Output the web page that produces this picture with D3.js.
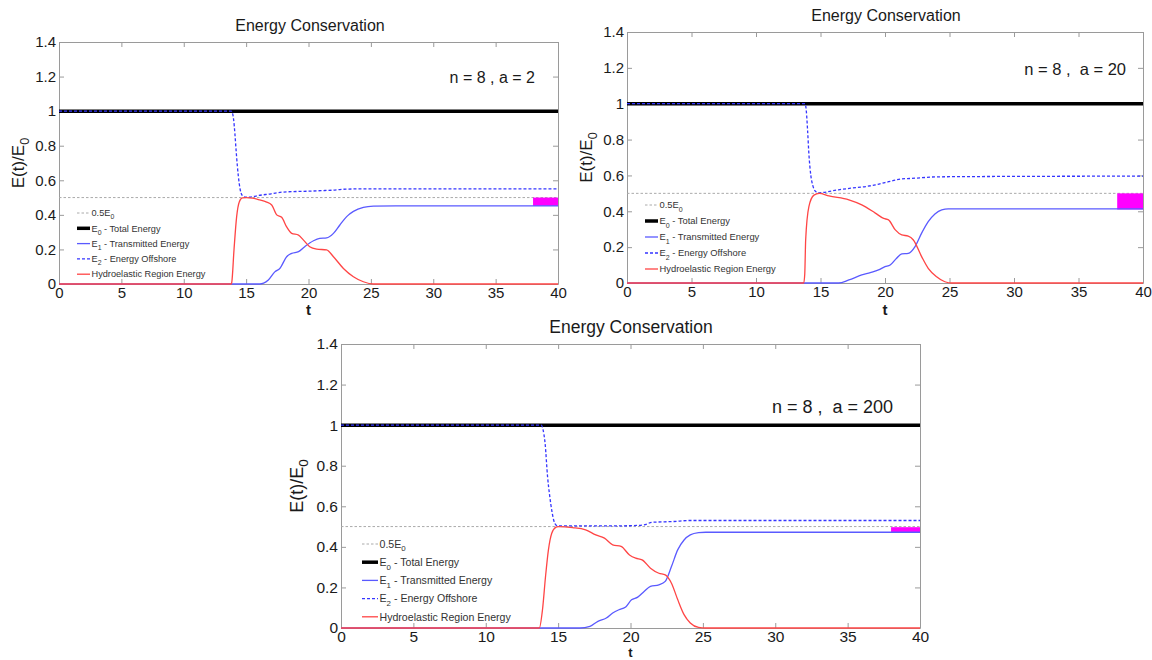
<!DOCTYPE html>
<html><head><meta charset="utf-8">
<script src="https://cdn.jsdelivr.net/npm/d3@7"></script>
<style>body{margin:0;background:#fff} text{font-family:Arial,"Liberation Sans",sans-serif}</style>
</head><body><svg id="c" width="1152" height="660"></svg>
<script>
// ---------------- data ----------------
const xTicks = [0,5,10,15,20,25,30,35,40];
const yTicks = [0,0.2,0.4,0.6,0.8,1,1.2,1.4];
const yTickLabels = ["0","0.2","0.4","0.6","0.8","1","1.2","1.4"];
const xDomain = [0,40];
const yDomain = [0,1.4];
const panelTitles = ["Energy Conservation","Energy Conservation","Energy Conservation"];
const panelNotes = ["n = 8 , a = 2","n = 8 ,  a = 20","n = 8 ,  a = 200"];
const halfLevel = 0.5;
const totalLevel = 1;
const legendMain = ["0.5E","E","E","E","Hydroelastic Region Energy"];
const legendSub = ["0","0","1","2",""];
const legendRest = [""," - Total Energy"," - Transmitted Energy"," - Energy Offshore",""];

// a = 2
const e2_a2 = [[0,1],[13.8,1],[13.9,0.99],[14.0,0.95],[14.1,0.87],[14.2,0.77],[14.3,0.68],[14.45,0.58],[14.6,0.525],[14.8,0.505],[15,0.502],[15.5,0.505],[16,0.512],[17,0.522],[17.5,0.528],[18,0.532],[19,0.535],[20,0.537],[21,0.54],[22,0.543],[22.5,0.546],[23,0.549],[24,0.55],[40,0.55]];
const hydro_a2 = [[0,0],[13.8,0],[13.85,0.01],[14.03,0.2],[14.24,0.39],[14.45,0.475],[14.7,0.498],[15,0.5],[15.5,0.497],[16.1,0.486],[16.6,0.475],[17.05,0.457],[17.45,0.40],[17.85,0.386],[18.25,0.33],[18.65,0.293],[19.2,0.283],[19.6,0.254],[20.1,0.216],[20.66,0.202],[21.45,0.197],[22,0.158],[22.8,0.09],[23.6,0.042],[24.4,0.013],[25.2,0],[40,0]];
const e1_a2 = [[0,0],[16.1,0],[16.4,0.005],[16.78,0.023],[17.3,0.07],[17.7,0.09],[18.25,0.158],[18.65,0.177],[19.2,0.187],[19.7,0.216],[20.4,0.25],[20.9,0.264],[21.45,0.267],[22,0.293],[22.5,0.34],[23.06,0.39],[23.6,0.42],[24.4,0.443],[25.2,0.45],[27,0.452],[40,0.452]];
const gap_a2 = [38,40,0.452,0.5];

// a = 20
const e2_a20 = [[0,1],[13.8,1],[13.9,0.96],[14.0,0.85],[14.1,0.72],[14.25,0.6],[14.4,0.545],[14.6,0.512],[14.9,0.503],[15.2,0.505],[16.4,0.52],[17.5,0.53],[18.5,0.538],[19.25,0.547],[20,0.56],[20.8,0.574],[21.2,0.58],[22,0.583],[22.8,0.587],[24,0.592],[28,0.594],[40,0.596]];
const hydro_a20 = [[0,0],[13.7,0],[13.78,0.05],[13.85,0.24],[14.1,0.426],[14.49,0.49],[14.9,0.5],[15.65,0.486],[17.2,0.464],[18.2,0.436],[19.25,0.39],[19.9,0.36],[20.27,0.352],[20.8,0.296],[21.3,0.268],[21.8,0.262],[22.2,0.24],[22.84,0.147],[23.35,0.082],[24,0.035],[24.64,0.007],[25.2,0],[40,0]];
const e1_a20 = [[0,0],[16.4,0],[17.2,0.017],[18.2,0.045],[18.86,0.058],[19.5,0.073],[20,0.091],[20.4,0.1],[20.9,0.138],[21.3,0.162],[21.8,0.165],[22.33,0.203],[22.84,0.278],[23.35,0.342],[23.87,0.385],[24.4,0.408],[24.9,0.413],[40,0.413]];
const gap_a20 = [38,40,0.41,0.5];

// a = 200
const e2_a200 = [[0,1],[13.84,1],[13.95,0.98],[14.1,0.91],[14.27,0.746],[14.42,0.65],[14.56,0.58],[14.7,0.53],[14.85,0.508],[15,0.503],[16.9,0.503],[19.8,0.504],[20.9,0.508],[21.5,0.521],[23,0.525],[24.1,0.53],[40,0.53]];
const hydro_a200 = [[0,0],[13.7,0],[13.92,0.09],[14.13,0.254],[14.33,0.385],[14.56,0.467],[14.85,0.497],[15,0.5],[16,0.495],[16.9,0.484],[17.6,0.459],[18.2,0.443],[18.77,0.41],[19.35,0.402],[19.93,0.36],[20.36,0.344],[20.8,0.336],[21.38,0.295],[21.96,0.27],[22.4,0.262],[22.83,0.221],[23.26,0.14],[23.7,0.066],[24.13,0.025],[24.7,0.003],[25.2,0],[40,0]];
const e1_a200 = [[0,0],[16.5,0],[17.2,0.008],[17.75,0.033],[18.33,0.049],[18.77,0.074],[19.2,0.09],[19.64,0.102],[20.07,0.139],[20.5,0.152],[20.94,0.18],[21.38,0.205],[21.96,0.213],[22.4,0.23],[22.83,0.303],[23.26,0.385],[23.7,0.434],[24.13,0.459],[24.7,0.47],[25.2,0.472],[40,0.472]];
const gap_a200 = [38,40,0.472,0.497];

// ---------------- layout / style ----------------
const layouts = [
  {l:59, r:558, t:42, b:284, tickFs:15, xPad:3.5, titleX:310, titleY:31, titleFs:16, noteX:535, noteY:83, noteFs:16, ylabX:24, ylabFs:17, tY:315, tFs:15, legX:77, legY:213, legDy:15.3, legLen:13, legFs:9.2},
  {l:627, r:1143, t:32, b:283, tickFs:15, xPad:3.5, titleX:886, titleY:21, titleFs:16, noteX:1126, noteY:75, noteFs:16.5, ylabX:592, ylabFs:17, tY:315, tFs:15, legX:645, legY:205, legDy:16, legLen:13, legFs:9.4},
  {l:341, r:920, t:344, b:628, tickFs:15.5, xPad:3, titleX:631, titleY:333, titleFs:17.5, noteX:893, noteY:413, noteFs:18, ylabX:303, ylabFs:18, tY:656.5, tFs:13, legX:362, legY:544, legDy:18.2, legLen:16, legFs:10.6}
];
const panels = [
  {e1:e1_a2, e2:e2_a2, hydro:hydro_a2, gap:gap_a2},
  {e1:e1_a20, e2:e2_a20, hydro:hydro_a20, gap:gap_a20},
  {e1:e1_a200, e2:e2_a200, hydro:hydro_a200, gap:gap_a200}
];
const COL = {e1:"#5a5aff", e2:"#3535ff", hydro:"#ff4545", total:"#000", half:"#aaaaaa", gap:"#ff00ff", axis:"#9a9a9a", text:"#1a1a1a"};
const legendStyles = [
  {stroke:COL.half, w:1, dash:"2.5,2"},
  {stroke:COL.total, w:3.5, dash:null},
  {stroke:COL.e1, w:1.3, dash:null},
  {stroke:COL.e2, w:1.3, dash:"3,2"},
  {stroke:COL.hydro, w:1.3, dash:null}
];

const svg = d3.select("#c");
svg.append("rect").attr("width",1152).attr("height",660).attr("fill","#fff");

panels.forEach((p, i) => {
  const L = layouts[i];
  const x = d3.scaleLinear().domain(xDomain).range([L.l, L.r]);
  const y = d3.scaleLinear().domain(yDomain).range([L.b, L.t]);
  const g = svg.append("g");
  const clipId = "clip" + i;
  svg.append("clipPath").attr("id", clipId).append("rect")
    .attr("x", L.l).attr("y", L.t - 3).attr("width", L.r - L.l).attr("height", L.b - L.t + 4);

  const styleAxis = sel => {
    sel.select(".domain").attr("stroke", COL.axis);
    sel.selectAll(".tick line").attr("stroke", COL.axis);
    sel.selectAll("text").attr("font-size", L.tickFs).attr("fill", COL.text)
      .attr("font-family", "Arial, 'Liberation Sans', sans-serif");
  };
  g.append("g").attr("transform", `translate(0,${L.b})`)
    .call(d3.axisBottom(x).tickValues(xTicks).tickSize(-5).tickSizeOuter(0).tickPadding(L.xPad).tickFormat(d3.format("d")))
    .call(styleAxis);
  g.append("g").attr("transform", `translate(0,${L.t})`)
    .call(d3.axisTop(x).tickValues(xTicks).tickSize(-5).tickSizeOuter(0).tickFormat(""))
    .call(styleAxis);
  g.append("g").attr("transform", `translate(${L.l},0)`)
    .call(d3.axisLeft(y).tickValues(yTicks).tickSize(-5).tickSizeOuter(0).tickPadding(3).tickFormat((d, k) => yTickLabels[k]))
    .call(styleAxis);
  g.append("g").attr("transform", `translate(${L.r},0)`)
    .call(d3.axisRight(y).tickValues(yTicks).tickSize(-5).tickSizeOuter(0).tickFormat(""))
    .call(styleAxis);

  const plot = g.append("g").attr("clip-path", `url(#${clipId})`);
  const line = d3.line().x(d => x(d[0])).y(d => y(d[1])).curve(d3.curveMonotoneX);

  plot.append("path").datum([[xDomain[0], halfLevel],[xDomain[1], halfLevel]])
    .attr("d", line).attr("fill","none").attr("stroke", COL.half).attr("stroke-width",1).attr("stroke-dasharray","2.5,2");
  plot.append("rect")
    .attr("x", x(p.gap[0])).attr("width", x(p.gap[1]) - x(p.gap[0]))
    .attr("y", y(p.gap[3])).attr("height", y(p.gap[2]) - y(p.gap[3]))
    .attr("fill", COL.gap);
  plot.append("path").datum([[xDomain[0], totalLevel],[xDomain[1], totalLevel]])
    .attr("d", line).attr("fill","none").attr("stroke", COL.total).attr("stroke-width",3.5);
  plot.append("path").datum(p.e1).attr("d", line).attr("fill","none")
    .attr("stroke", COL.e1).attr("stroke-width",1.3);
  plot.append("path").datum(p.e2).attr("d", line).attr("fill","none")
    .attr("stroke", COL.e2).attr("stroke-width",1.3).attr("stroke-dasharray","3,2");
  plot.append("path").datum(p.hydro).attr("d", line).attr("fill","none")
    .attr("stroke", COL.hydro).attr("stroke-width",1.3);

  g.append("text").attr("x", L.titleX).attr("y", L.titleY).attr("text-anchor","middle")
    .attr("font-size", L.titleFs).attr("fill", COL.text).text(panelTitles[i]);
  g.append("text").attr("x", L.noteX).attr("y", L.noteY).attr("text-anchor","end")
    .attr("font-size", L.noteFs).attr("fill", COL.text)
    .style("white-space","pre").text(panelNotes[i]);
  g.append("text").attr("x", (L.l + L.r) / 2).attr("y", L.tY).attr("text-anchor","middle")
    .attr("font-size", L.tFs).attr("font-weight","bold").attr("fill", COL.text).text("t");
  const yl = g.append("text").attr("transform", `translate(${L.ylabX},${(L.t + L.b) / 2}) rotate(-90)`)
    .attr("text-anchor","middle").attr("font-size", L.ylabFs).attr("fill", COL.text);
  yl.append("tspan").text("E(t)/E");
  yl.append("tspan").attr("font-size", L.ylabFs * 0.75).attr("dy", L.ylabFs * 0.3).text("0");

  legendMain.forEach((m, k) => {
    const yy = L.legY + k * L.legDy;
    const s = legendStyles[k];
    g.append("line").attr("x1", L.legX).attr("x2", L.legX + L.legLen).attr("y1", yy).attr("y2", yy)
      .attr("stroke", s.stroke).attr("stroke-width", s.w).attr("stroke-dasharray", s.dash);
    const t = g.append("text").attr("x", L.legX + L.legLen + 1.5).attr("y", yy + L.legFs * 0.35)
      .attr("font-size", L.legFs).attr("fill", "#333").style("white-space","pre");
    t.append("tspan").text(m);
    if (legendSub[k]) {
      t.append("tspan").attr("font-size", L.legFs * 0.75).attr("dy", L.legFs * 0.35).text(legendSub[k]);
      t.append("tspan").attr("dy", -L.legFs * 0.35).text(legendRest[k]);
    }
  });
});
</script></body></html>
